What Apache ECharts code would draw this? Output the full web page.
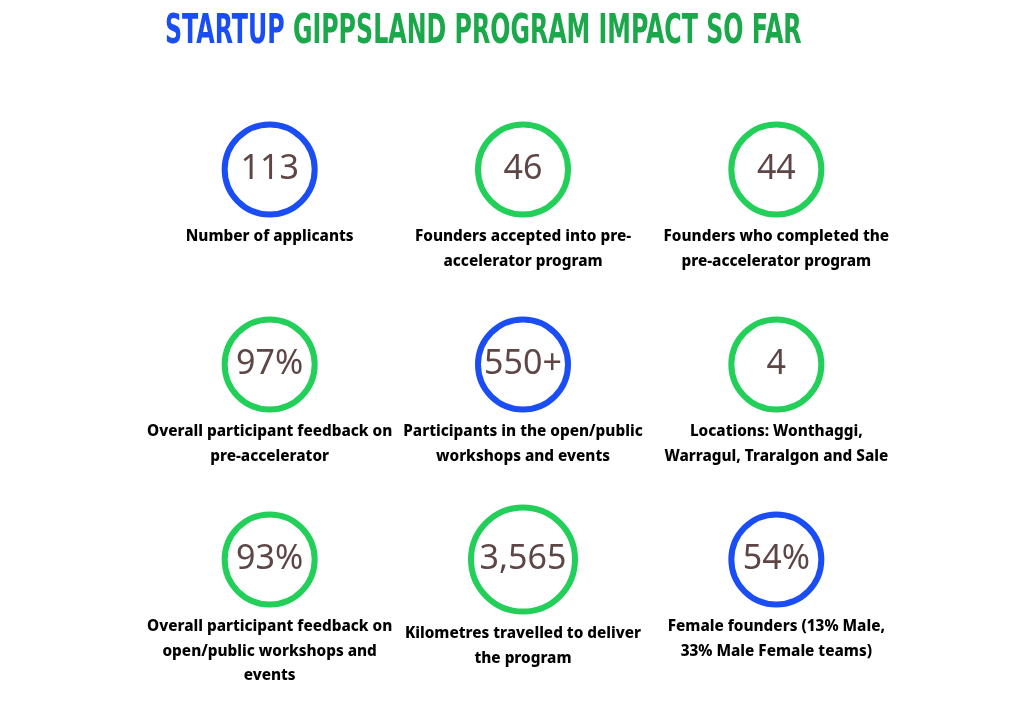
<!DOCTYPE html>
<html>
<head>
<meta charset="utf-8">
<script src="https://cdn.jsdelivr.net/npm/echarts@6/dist/echarts.min.js"></script>
<style>
html,body{margin:0;padding:0;background:#fff;}
#main{width:1024px;height:707px;}
</style>
</head>
<body>
<div id="main"></div>
<script>
// ---- data ----
const columns = ['c1', 'c2', 'c3'];
const rows = ['r1', 'r2', 'r3'];
const statValues = ['113', '46', '44', '97%', '550+', '4', '93%', '3,565', '54%'];
const statLabels = [
  'Number of applicants',
  'Founders accepted into pre-\naccelerator program',
  'Founders who completed the\npre-accelerator program',
  'Overall participant feedback on\npre-accelerator',
  'Participants in the open/public\nworkshops and events',
  'Locations: Wonthaggi,\nWarragul, Traralgon and Sale',
  'Overall participant feedback on\nopen/public workshops and\nevents',
  'Kilometres travelled to deliver\nthe program',
  'Female founders (13% Male,\n33% Male Female teams)'
];
const statTone = ['blue', 'green', 'green', 'green', 'blue', 'green', 'green', 'green', 'blue'];
const titleWords = ['STARTUP', 'GIPPSLAND PROGRAM IMPACT SO FAR'];

// ---- style ----
const toneColor = { blue: '#1b4df4', green: '#22cf58' };
const ringWidth = 6;
function ringSize(i) { return statValues[i].length > 4 ? 104 : 90; }
const titleFont = '"DejaVu Sans Condensed", "DejaVu Sans", sans-serif';

const ringData = statValues.map((v, i) => ({
  value: [columns[i % 3], rows[Math.floor(i / 3)]],
  symbolSize: ringSize(i),
  itemStyle: { borderColor: toneColor[statTone[i]] },
  label: { formatter: v }
}));
const textData = statLabels.map((t, i) => ({
  value: [columns[i % 3], rows[Math.floor(i / 3)]],
  label: { formatter: t, offset: [0, ringSize(i) / 2 + ringWidth / 2 + 7] }
}));

const chart = echarts.init(document.getElementById('main'));
chart.setOption({
  backgroundColor: '#ffffff',
  animation: false,
  graphic: [{
    type: 'text',
    x: 165,
    y: 13,
    scaleX: 0.66,
    silent: true,
    style: {
      text: '{a|' + titleWords[0] + ' }{b|' + titleWords[1] + '}',
      rich: {
        a: { fill: '#1b4df4', fontSize: 40, fontFamily: titleFont, fontWeight: 'bold' },
        b: { fill: '#1aa84a', fontSize: 40, fontFamily: titleFont, fontWeight: 'bold' }
      }
    }
  }],
  grid: { left: 143, width: 760, top: 72, height: 585 },
  xAxis: { type: 'category', data: columns, show: false },
  yAxis: { type: 'category', data: rows, inverse: true, show: false },
  series: [
    {
      type: 'scatter',
      symbol: 'circle',
      data: ringData,
      itemStyle: { color: 'rgba(255,255,255,0)', borderWidth: ringWidth, opacity: 1 },
      label: {
        show: true,
        position: 'inside',
        color: '#5e4646',
        fontSize: 34,
        fontFamily: '"Noto Sans", sans-serif',
        fontWeight: 'normal'
      },
      emphasis: { disabled: true }
    },
    {
      type: 'scatter',
      symbolSize: 1,
      data: textData,
      itemStyle: { color: 'rgba(255,255,255,0)', opacity: 1 },
      label: {
        show: true,
        position: 'inside',
        verticalAlign: 'top',
        align: 'center',
        color: '#000000',
        fontSize: 15.3,
        lineHeight: 24.5,
        fontWeight: 800,
        fontFamily: '"Noto Sans", sans-serif'
      },
      emphasis: { disabled: true }
    }
  ]
});
</script>
</body>
</html>
